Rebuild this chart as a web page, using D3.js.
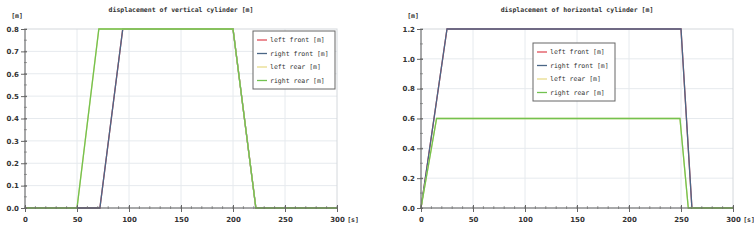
<!DOCTYPE html>
<html>
<head>
<meta charset="utf-8">
<script src="https://cdn.jsdelivr.net/npm/d3@7"></script>
<style>
  body { margin: 0; background: #fff; }
  svg text { font-family: "DejaVu Sans Mono", monospace; fill: #333; }
</style>
</head>
<body>
<div id="chart"></div>
<script>
// series names + colours (shared by both panels)
const seriesNames = ["left front [m]", "right front [m]", "left rear [m]", "right rear [m]"];
const seriesColors = ["#e0505a", "#4a6686", "#e8dc8c", "#72c250"];

// vertical cylinder: [t, value] breakpoints
const vertFront = [[0, 0], [72, 0], [94, 0.8], [200, 0.8], [222, 0], [300, 0]];
const vertRear = [[0, 0], [50, 0], [71, 0.8], [200, 0.8], [222, 0], [300, 0]];

// horizontal cylinder
const horFront = [[0, 0], [25, 1.2], [250, 1.2], [260.5, 0], [300, 0]];
const horRear = [[0, 0], [15, 0.6], [249, 0.6], [257, 0], [300, 0]];

const xTicks = [0, 50, 100, 150, 200, 250, 300];
const vertTicks = [0, 0.1, 0.2, 0.3, 0.4, 0.5, 0.6, 0.7, 0.8];
const horTicks = [0, 0.2, 0.4, 0.6, 0.8, 1.0, 1.2];

const W = 754, H = 240;
const svg = d3.select("#chart").append("svg").attr("width", W).attr("height", H);

function drawPanel(left, title, yMax, yTicks, yMinorStep, data, legendPos) {
    const top = 29, plotW = 312, plotH = 179;
    const g = svg.append("g").attr("transform", `translate(${left},${top})`);
    const x = d3.scaleLinear().domain([0, 300]).range([0, plotW]);
    const y = d3.scaleLinear().domain([0, yMax]).range([plotH, 0]);

    // grid + light frame
    g.selectAll(".gx").data(xTicks.slice(1, -1)).enter().append("line")
        .attr("x1", d => x(d)).attr("x2", d => x(d)).attr("y1", 0).attr("y2", plotH)
        .attr("stroke", "#e6eaee").attr("stroke-width", 1);
    g.selectAll(".gy").data(yTicks.slice(1, -1)).enter().append("line")
        .attr("x1", 0).attr("x2", plotW).attr("y1", d => y(d)).attr("y2", d => y(d))
        .attr("stroke", "#e6eaee").attr("stroke-width", 1);
    g.append("rect").attr("width", plotW).attr("height", plotH)
        .attr("fill", "none").attr("stroke", "#d4d8dc").attr("stroke-width", 1);

    // series, drawn in order so the later ones sit on top
    const line = d3.line().x(d => x(d[0])).y(d => y(d[1]));
    data.forEach((s, i) => {
        g.append("path").datum(s).attr("fill", "none")
            .attr("stroke", seriesColors[i]).attr("stroke-width", 1.3)
            .attr("d", line);
    });

    // minor ticks
    const minorX = d3.range(0, 301, 10);
    g.selectAll(".mx").data(minorX).enter().append("line")
        .attr("x1", d => x(d)).attr("x2", d => x(d))
        .attr("y1", plotH - 2).attr("y2", plotH + 1)
        .attr("stroke", "#777").attr("stroke-width", 0.7);
    const minorY = d3.range(0, yMax + 1e-9, yMinorStep);
    g.selectAll(".my").data(minorY).enter().append("line")
        .attr("x1", -1).attr("x2", 2).attr("y1", d => y(d)).attr("y2", d => y(d))
        .attr("stroke", "#777").attr("stroke-width", 0.7);

    g.append("g").attr("transform", `translate(0,${plotH})`)
        .call(d3.axisBottom(x).tickValues(xTicks).tickFormat(d3.format("d")).tickSize(4).tickPadding(5))
        .call(a => a.select(".domain").attr("stroke", "#666").attr("d", `M0,0H${plotW}`))
        .call(a => a.selectAll(".tick line").attr("stroke", "#666").attr("y1", -3))
        .call(a => a.selectAll("text").style("font-family", "DejaVu Sans").style("font-size", "7px")
            .style("font-weight", "bold").attr("fill", "#444"));

    g.append("g")
        .call(d3.axisLeft(y).tickValues(yTicks).tickFormat(d3.format(".1f")).tickSize(4).tickPadding(2))
        .call(a => a.select(".domain").attr("stroke", "#666").attr("d", `M0,0V${plotH}`))
        .call(a => a.selectAll(".tick line").attr("stroke", "#666").attr("x1", 2))
        .call(a => a.selectAll("text").style("font-family", "DejaVu Sans").style("font-size", "7px")
            .style("font-weight", "bold").attr("fill", "#444"));

    // units + title
    g.append("text").attr("x", -8).attr("y", -11).attr("text-anchor", "middle")
        .style("font-size", "6.5px").style("font-weight", "bold").text("[m]");
    g.append("text").attr("x", plotW + 16).attr("y", plotH + 14).attr("text-anchor", "middle")
        .style("font-size", "6.5px").style("font-weight", "bold").text("[s]");
    g.append("text").attr("x", plotW / 2).attr("y", -17).attr("text-anchor", "middle")
        .style("font-size", "6.5px").style("font-weight", "bold").text(title);

    // legend
    const lg = g.append("g").attr("transform", `translate(${legendPos[0]},${legendPos[1]})`);
    lg.append("rect").attr("width", 82).attr("height", 58)
        .attr("fill", "#fff").attr("stroke", "#666").attr("stroke-width", 1);
    seriesNames.forEach((n, i) => {
        const yy = 9 + i * 13.5;
        lg.append("line").attr("x1", 4).attr("x2", 14).attr("y1", yy).attr("y2", yy)
            .attr("stroke", seriesColors[i]).attr("stroke-width", 1.3);
        lg.append("text").attr("x", 17).attr("y", yy + 2.3)
            .style("font-size", "6.5px").text(n);
    });
}

drawPanel(25, "displacement of vertical cylinder [m]", 0.8, vertTicks, 0.05,
    [vertFront, vertFront, vertRear, vertRear], [228, 2]);
drawPanel(421, "displacement of horizontal cylinder [m]", 1.2, horTicks, 0.1,
    [horFront, horFront, horRear, horRear], [112, 14]);
</script>
</body>
</html>
